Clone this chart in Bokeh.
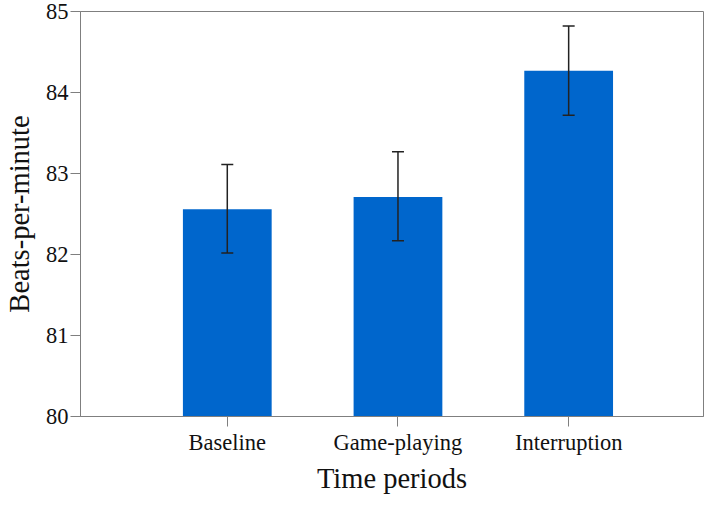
from bokeh.plotting import figure
from bokeh.models import Range1d, FixedTicker, ColumnDataSource, Whisker, TeeHead
from bokeh.embed import file_html
from bokeh.resources import INLINE

categories = ["Baseline", "Game-playing", "Interruption"]
means = [82.56, 82.71, 84.27]
upper = [83.11, 83.27, 84.82]
lower = [82.02, 82.17, 83.72]
y_ticks = [80, 81, 82, 83, 84, 85]
x_label = "Time periods"
y_label = "Beats-per-minute"

xpos = list(range(len(categories)))
src = ColumnDataSource(dict(x=xpos, top=means, upper=upper, lower=lower))

FONT = "Liberation Serif"
GRAY = "#7f7f7f"
INK = "#222222"

p = figure(width=704, height=496, output_backend="svg", toolbar_location=None,
           x_range=Range1d(-0.86, 2.79), y_range=Range1d(80, 85),
           min_border_left=75, min_border_right=1, min_border_top=11, min_border_bottom=80)

p.vbar(x="x", top="top", bottom=80, width=0.52, source=src,
       fill_color="#0066CC", line_color=None)

w = Whisker(base="x", upper="upper", lower="lower", source=src,
            line_color=INK, line_width=1.5, level="overlay",
            upper_head=TeeHead(size=12, line_color=INK, line_width=1.5),
            lower_head=TeeHead(size=12, line_color=INK, line_width=1.5))
p.add_layout(w)

p.xgrid.visible = False
p.ygrid.visible = False
p.outline_line_color = GRAY
p.outline_line_width = 1

p.xaxis.ticker = FixedTicker(ticks=xpos)
p.xaxis.major_label_overrides = {i: c for i, c in enumerate(categories)}
p.yaxis.ticker = FixedTicker(ticks=y_ticks)

for ax in (p.xaxis[0], p.yaxis[0]):
    ax.axis_line_color = GRAY
    ax.major_tick_line_color = GRAY
    ax.minor_tick_line_color = None
    ax.major_tick_in = 0
    ax.major_tick_out = 10
    ax.major_label_text_font = FONT
    ax.major_label_text_font_size = "22.5px"
    ax.major_label_text_color = "#111111"
    ax.axis_label_text_font = FONT
    ax.axis_label_text_font_size = "28.5px"
    ax.axis_label_text_font_style = "normal"
    ax.axis_label_text_color = "#111111"

p.xaxis.axis_label = x_label
p.yaxis.axis_label = y_label
p.xaxis.major_label_standoff = 3
p.yaxis.major_label_standoff = 2
p.xaxis.axis_label_standoff = 5
p.yaxis.axis_label_standoff = 8

open("out.html", "w").write(file_html(p, INLINE))
